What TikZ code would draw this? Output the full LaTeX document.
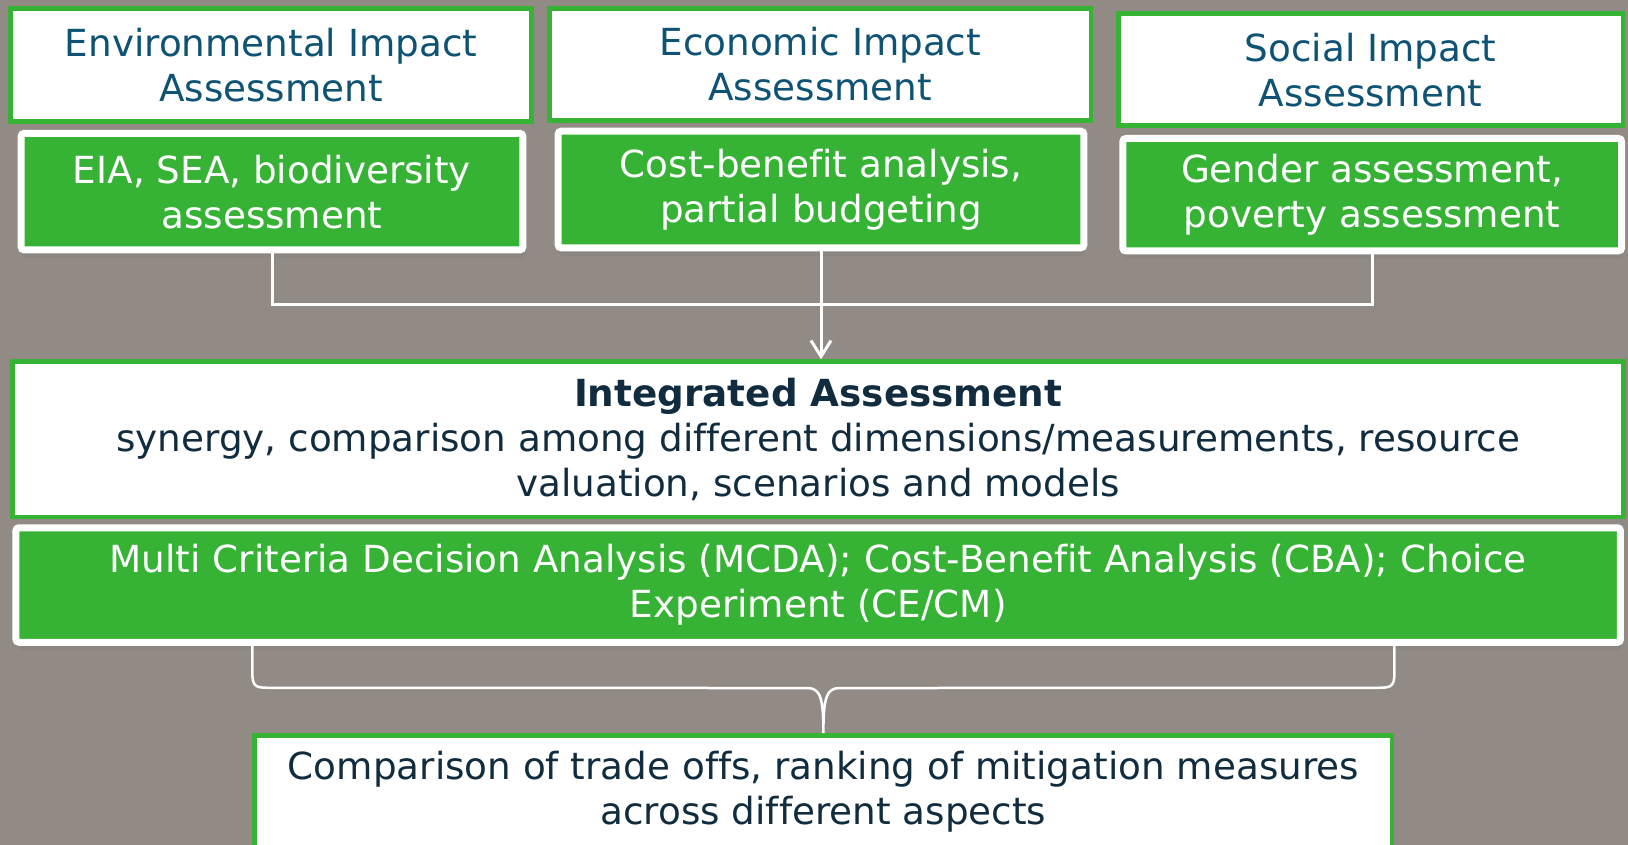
\documentclass[tikz,border=0pt]{standalone}
\usepackage{fontspec}
\setmainfont[Ligatures=NoCommon]{DejaVu Sans}
\usetikzlibrary{arrows.meta,shadows,calc}
\definecolor{bggray}{RGB}{146,138,132}
\definecolor{boxgreen}{RGB}{54,178,53}
\definecolor{headblue}{RGB}{14,82,116}
\definecolor{darkblue}{RGB}{16,44,62}
\newcommand{\boxfont}{\fontsize{37.3}{45}\selectfont}

\begin{document}
\begin{tikzpicture}[x=1pt,y=-1pt,
    HeadStyle/.style={draw=boxgreen,line width=4.5pt,fill=white,text=headblue,font=\boxfont,align=center,inner sep=0pt},
    ToolStyle/.style={draw=white,line width=7pt,fill=boxgreen,text=white,font=\boxfont,align=center,inner sep=0pt,rounded corners=3pt,
        drop shadow={shadow xshift=1pt,shadow yshift=-8pt,opacity=0.3}},
    LinkStyle/.style={draw=white,line width=3pt}]
        \useasboundingbox (0,0) rectangle (1628,845);
        \clip (0,0) rectangle (1628,845);
        \fill[bggray] (0,0) rectangle (1628,845);
        \node[HeadStyle,minimum width=521pt,minimum height=113pt] (EnvHead) at (271,65) {Environmental Impact\\Assessment};
        \node[HeadStyle,minimum width=541.6pt,minimum height=111.8pt] (EcoHead) at (820.3,64.5) {Economic Impact\\Assessment};
        \node[HeadStyle,minimum width=504.3pt,minimum height=111.8pt] (SocHead) at (1370.6,69.6) {Social Impact\\Assessment};
        \node[ToolStyle,minimum width=501.7pt,minimum height=116.5pt] (EnvTool) at (272,191.6) {EIA, SEA, biodiversity\\assessment};
        \node[ToolStyle,minimum width=525.7pt,minimum height=116.6pt] (EcoTool) at (821,189.5) {Cost-benefit analysis,\\partial budgeting};
        \node[ToolStyle,minimum width=498.7pt,minimum height=112.4pt] (SocTool) at (1372.2,194.7) {Gender assessment,\\poverty assessment};
        \node[HeadStyle,text=darkblue,minimum width=1611pt,minimum height=155.4pt] (Integ) at (818.2,439.3) {\textbf{Integrated Assessment}\\synergy, comparison among different dimensions/measurements, resource\\valuation, scenarios and models};
        \node[ToolStyle,minimum width=1604.5pt,minimum height=114.5pt] (Mcda) at (818.2,585) {Multi Criteria Decision Analysis (MCDA); Cost-Benefit Analysis (CBA); Choice\\Experiment (CE/CM)};
        \node[HeadStyle,text=darkblue,minimum width=1137.6pt,minimum height=112pt] (Result) at (823.4,791.3) {Comparison of trade offs, ranking of mitigation measures\\across different aspects};
        \coordinate (Join) at (EcoTool.south |- 0,304);
        \draw[LinkStyle] (EnvTool.south) |- (Join) -| (SocTool.south);
        \draw[LinkStyle,-{Straight Barb[length=16pt,width=20pt]}] (EcoTool.south) -- (EcoTool.south |- Integ.north);
        \coordinate (BrL) at (Mcda.south -| Result.west);
        \coordinate (BrR) at (Mcda.south -| Result.east);
        \draw[LinkStyle,line width=2.5pt] (BrL) -- ($(BrL)+(0,27)$) .. controls ($(BrL)+(0,40)$) and ($(BrL)+(3,42)$) .. ($(BrL)+(15,42)$)
            -- ($(Result.north)+(-16,-45)$) .. controls ($(Result.north)+(-3,-45)$) and ($(Result.north)+(0,-35)$) .. (Result.north)
            .. controls ($(Result.north)+(0,-35)$) and ($(Result.north)+(3,-45)$) .. ($(Result.north)+(16,-45)$)
            -- ($(BrR)+(-15,42)$) .. controls ($(BrR)+(-3,42)$) and ($(BrR)+(0,40)$) .. ($(BrR)+(0,27)$) -- (BrR);
    \end{tikzpicture}
\end{document}
